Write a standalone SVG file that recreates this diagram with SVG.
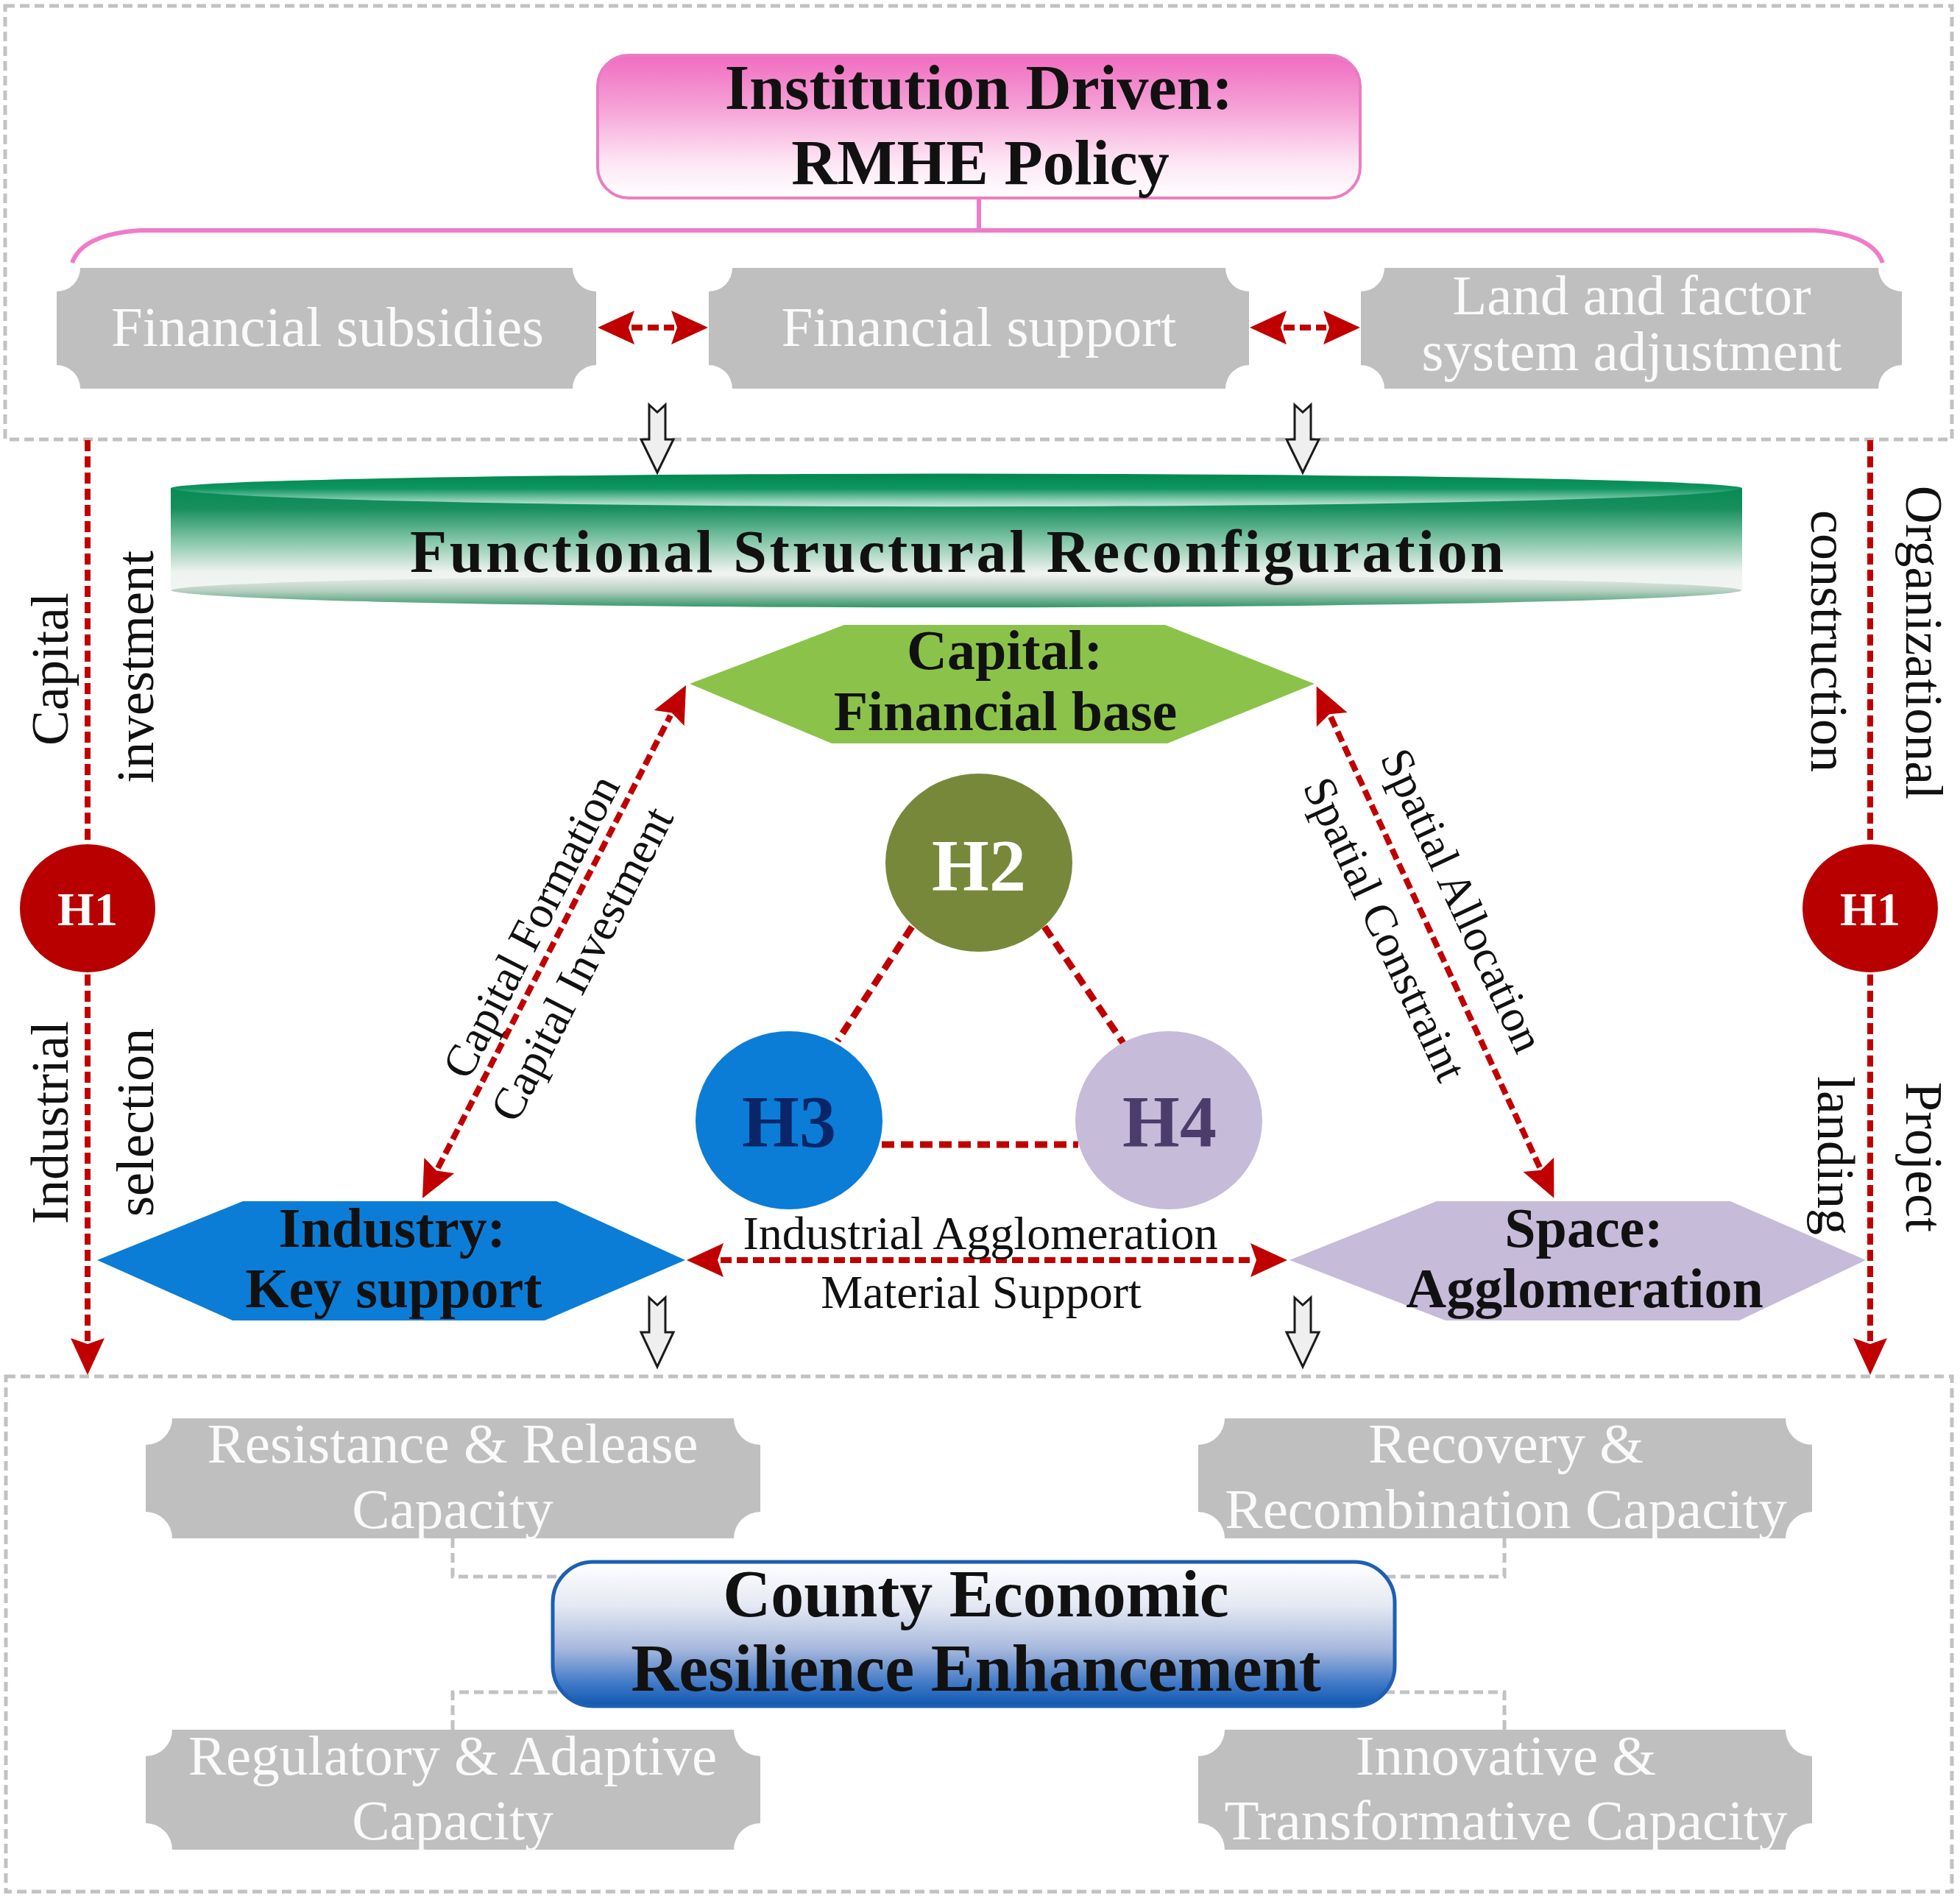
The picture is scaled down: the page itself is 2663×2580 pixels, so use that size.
<svg xmlns="http://www.w3.org/2000/svg" width="2663" height="2580" viewBox="0 0 2663 2580">
<style>
text{font-family:"Liberation Serif","Times New Roman",serif;}
.b{font-weight:bold;}
.gt{fill:#fafafa;font-size:77px;text-anchor:middle;}
.gbox{fill:#bfbfbf;}
.frame{fill:none;stroke:#c2c2c2;stroke-width:5;stroke-dasharray:13 7;}
.gdash{fill:none;stroke:#c2c2c2;stroke-width:5;stroke-dasharray:13 7;}
.red{fill:none;stroke:#c00000;stroke-width:8;stroke-dasharray:15 7;}
.redtri{fill:none;stroke:#c00000;stroke-width:9;stroke-dasharray:17 9;}
.hollow{fill:#efefef;stroke:#1a1a1a;stroke-width:3;stroke-linejoin:miter;}
.lbl{font-size:72px;fill:#111;text-anchor:middle;}
.dl{font-size:62px;fill:#111;text-anchor:middle;}
.hex{font-size:76px;fill:#111;text-anchor:middle;font-weight:bold;}
</style>
<defs>
<marker id="ah" viewBox="0 0 50 46" markerWidth="50" markerHeight="46" refX="4" refY="23" orient="auto-start-reverse" markerUnits="userSpaceOnUse">
<path d="M0,0 L50,23 L0,46 L8,23 Z" fill="#c00000"/>
</marker>
<linearGradient id="gPink" x1="0" y1="0" x2="0" y2="1">
<stop offset="0" stop-color="#f06cc0"/>
<stop offset="0.35" stop-color="#f59fd5"/>
<stop offset="0.75" stop-color="#fde6f4"/>
<stop offset="1" stop-color="#ffffff"/>
</linearGradient>
<linearGradient id="gBlue" x1="0" y1="0" x2="0" y2="1">
<stop offset="0" stop-color="#ffffff"/>
<stop offset="0.3" stop-color="#e5e9f3"/>
<stop offset="0.6" stop-color="#a8b9dd"/>
<stop offset="0.85" stop-color="#3d77c6"/>
<stop offset="1" stop-color="#0f57b0"/>
</linearGradient>
<linearGradient id="gBody" gradientUnits="userSpaceOnUse" x1="0" y1="663" x2="0" y2="826">
<stop offset="0" stop-color="#078a53"/>
<stop offset="0.17" stop-color="#178f5d"/>
<stop offset="0.42" stop-color="#7cc3a3"/>
<stop offset="0.7" stop-color="#eef3f0"/>
<stop offset="1" stop-color="#f5f5f5"/>
</linearGradient>
<linearGradient id="gTop" gradientUnits="userSpaceOnUse" x1="0" y1="643" x2="0" y2="689">
<stop offset="0" stop-color="#00874d"/>
<stop offset="0.45" stop-color="#0f9560"/>
<stop offset="0.85" stop-color="#9fd6bf"/>
<stop offset="1" stop-color="#c8eadb"/>
</linearGradient>
<linearGradient id="gBot" gradientUnits="userSpaceOnUse" x1="0" y1="780" x2="0" y2="826">
<stop offset="0" stop-color="#f3f3f3"/>
<stop offset="0.5" stop-color="#b6cfc2"/>
<stop offset="1" stop-color="#2e9565"/>
</linearGradient>
</defs>

<rect width="2663" height="2580" fill="#ffffff"/>

<g id="frames">
<rect class="frame" x="7" y="8" width="2645" height="589"/>
<rect class="frame" x="8" y="1870" width="2644" height="700"/>
</g>

<g id="connectors">
<path d="M1330,268 V313" fill="none" stroke="#ef7cc8" stroke-width="6"/>
<path d="M98,357 Q112,318 191,313 H2465 Q2544,318 2558,357" fill="none" stroke="#ef7cc8" stroke-width="6"/>
<line class="red" x1="858" y1="445" x2="916" y2="445" marker-start="url(#ah)" marker-end="url(#ah)"/>
<line class="red" x1="1744" y1="445" x2="1802" y2="445" marker-start="url(#ah)" marker-end="url(#ah)"/>
<line class="red" x1="119" y1="598" x2="119" y2="1822" marker-end="url(#ah)"/>
<line class="red" x1="2541" y1="598" x2="2541" y2="1822" marker-end="url(#ah)"/>
<line class="red" x1="595" y1="1587" x2="911" y2="972" marker-start="url(#ah)" marker-end="url(#ah)"/>
<line class="red" x1="1808" y1="974" x2="2092" y2="1586" marker-start="url(#ah)" marker-end="url(#ah)"/>
<line class="red" x1="979" y1="1712" x2="1703" y2="1712" marker-start="url(#ah)" marker-end="url(#ah)"/>
<line class="redtri" x1="1239" y1="1259" x2="1138" y2="1414"/>
<line class="redtri" x1="1419" y1="1259" x2="1526" y2="1417"/>
<line class="redtri" x1="1198" y1="1555" x2="1465" y2="1555"/>
<path class="gdash" d="M615,2090 V2142 H765"/>
<path class="gdash" d="M615,2350 V2299 H765"/>
<path class="gdash" d="M2044,2090 V2142 H1882"/>
<path class="gdash" d="M2044,2350 V2299 H1882"/>
<polygon class="hollow" points="882,550 893,560 904,550 904,597 915,597 893,642 871,597 882,597"/>
<polygon class="hollow" points="1759,550 1770,560 1781,550 1781,597 1792,597 1770,642 1748,597 1759,597"/>
<polygon class="hollow" points="882,1763 893,1773 904,1763 904,1810 915,1810 893,1857 871,1810 882,1810"/>
<polygon class="hollow" points="1759,1763 1770,1773 1781,1763 1781,1810 1792,1810 1770,1857 1748,1810 1759,1810"/>
<text class="lbl" transform="translate(92,909) rotate(-90)">Capital</text>
<text class="lbl" transform="translate(208,906) rotate(-90)">investment</text>
<text class="lbl" transform="translate(92,1525) rotate(-90)">Industrial</text>
<text class="lbl" transform="translate(208,1525) rotate(-90)">selection</text>
<text class="lbl" transform="translate(2590,873) rotate(90)">Organizational</text>
<text class="lbl" transform="translate(2461,871) rotate(90)">construction</text>
<text class="lbl" transform="translate(2590,1572) rotate(90)">Project</text>
<text class="lbl" transform="translate(2470,1570) rotate(90)">landing</text>
<text class="dl" transform="translate(740,1268) rotate(-62.8)">Capital Formation</text>
<text class="dl" transform="translate(809,1319) rotate(-62.8)">Capital Investment</text>
<text class="dl" transform="translate(1968,1232) rotate(65.2)">Spatial Allocation</text>
<text class="dl" transform="translate(1863,1271) rotate(65.2)">Spatial Constraint</text>
<text x="1332" y="1697" font-size="64" fill="#111" text-anchor="middle">Industrial Agglomeration</text>
<text x="1333" y="1777" font-size="64" fill="#111" text-anchor="middle">Material Support</text>
</g>

<g id="institution">
<rect x="812" y="75" width="1036" height="194" rx="42" fill="url(#gPink)" stroke="#e97dc4" stroke-width="4"/>
<text class="b" x="1330" y="148" font-size="86" fill="#111" text-anchor="middle">Institution Driven:</text>
<text class="b" x="1332" y="250" font-size="86" fill="#111" text-anchor="middle">RMHE Policy</text>
</g>

<g id="financial-subsidies">
<path class="gbox" d="M109,364 H778 A32,32 0 0 0 810,396 V496 A32,32 0 0 0 778,528 H109 A32,32 0 0 0 77,496 V396 A32,32 0 0 0 109,364 Z"/>
<text class="gt" x="445" y="470">Financial subsidies</text>
</g>
<g id="financial-support">
<path class="gbox" d="M995,364 H1665 A32,32 0 0 0 1697,396 V496 A32,32 0 0 0 1665,528 H995 A32,32 0 0 0 963,496 V396 A32,32 0 0 0 995,364 Z"/>
<text class="gt" x="1330" y="470">Financial support</text>
</g>
<g id="land-factor">
<path class="gbox" d="M1881,364 H2552 A32,32 0 0 0 2584,396 V496 A32,32 0 0 0 2552,528 H1881 A32,32 0 0 0 1849,496 V396 A32,32 0 0 0 1881,364 Z"/>
<text class="gt" x="2217" y="427" font-size="75">Land and factor</text>
<text class="gt" x="2217" y="503" font-size="75">system adjustment</text>
</g>

<g id="functional">
<path d="M232,663 L232,802 A1068,24 0 0 0 2367,802 L2367,663 Z" fill="url(#gBody)"/>
<path d="M232,802 A1068,22 0 0 1 2367,802 A1068,24 0 0 1 232,802 Z" fill="url(#gBot)"/>
<path d="M232,663 A1068,20 0 0 1 2367,663 A1068,26 0 0 1 232,663 Z" fill="url(#gTop)"/>
<text class="b" x="1300" y="777" font-size="82" fill="#111" text-anchor="middle" textLength="1486" lengthAdjust="spacing">Functional Structural Reconfiguration</text>
</g>

<g id="capital">
<polygon points="937,929 1147,849 1583,849 1786,929 1586,1010 1130,1010" fill="#8bc34a"/>
<text class="hex" x="1365" y="909">Capital:</text>
<text class="hex" x="1366" y="992">Financial base</text>
</g>

<g id="industry">
<polygon points="132,1712 330,1632 756,1632 931,1712 740,1794 316,1794" fill="#0c7dd6"/>
<text class="hex" x="533" y="1694">Industry:</text>
<text class="hex" x="535" y="1776">Key support</text>
</g>

<g id="space">
<polygon points="1752,1712 1952,1632 2351,1632 2535,1712 2363,1794 1964,1794" fill="#c6bbd9"/>
<text class="hex" x="2152" y="1694">Space:</text>
<text class="hex" x="2153" y="1776">Agglomeration</text>
</g>

<g id="h1-left">
<ellipse cx="119" cy="1234" rx="92" ry="87" fill="#b80000"/>
<text class="b" x="119" y="1257" font-size="64" fill="#ffffff" text-anchor="middle">H1</text>
</g>
<g id="h1-right">
<ellipse cx="2541" cy="1234" rx="92" ry="87" fill="#b80000"/>
<text class="b" x="2541" y="1257" font-size="64" fill="#ffffff" text-anchor="middle">H1</text>
</g>

<g id="h2">
<ellipse cx="1330" cy="1172" rx="127" ry="121" fill="#77883a"/>
<text class="b" x="1330" y="1209" font-size="100" fill="#ffffff" text-anchor="middle">H2</text>
</g>
<g id="h3">
<ellipse cx="1072" cy="1522" rx="127" ry="121" fill="#0c7dd6"/>
<text class="b" x="1072" y="1557" font-size="100" fill="#0a2668" text-anchor="middle">H3</text>
</g>
<g id="h4">
<ellipse cx="1588" cy="1522" rx="127" ry="121" fill="#c6bbd9"/>
<text class="b" x="1589" y="1557" font-size="100" fill="#4b3c6c" text-anchor="middle">H4</text>
</g>

<g id="resistance">
<path class="gbox" d="M234,1927 H997 A36,36 0 0 0 1033,1963 V2054 A36,36 0 0 0 997,2090 H234 A36,36 0 0 0 198,2054 V1963 A36,36 0 0 0 234,1927 Z"/>
<text class="gt" x="615" y="1987">Resistance &amp; Release</text>
<text class="gt" x="615" y="2076">Capacity</text>
</g>
<g id="recovery">
<path class="gbox" d="M1664,1927 H2426 A36,36 0 0 0 2462,1963 V2054 A36,36 0 0 0 2426,2090 H1664 A36,36 0 0 0 1628,2054 V1963 A36,36 0 0 0 1664,1927 Z"/>
<text class="gt" x="2046" y="1987">Recovery &amp;</text>
<text class="gt" x="2046" y="2076">Recombination Capacity</text>
</g>
<g id="regulatory">
<path class="gbox" d="M234,2350 H997 A36,36 0 0 0 1033,2386 V2477 A36,36 0 0 0 997,2513 H234 A36,36 0 0 0 198,2477 V2386 A36,36 0 0 0 234,2350 Z"/>
<text class="gt" x="615" y="2411">Regulatory &amp; Adaptive</text>
<text class="gt" x="615" y="2499">Capacity</text>
</g>
<g id="innovative">
<path class="gbox" d="M1664,2350 H2426 A36,36 0 0 0 2462,2386 V2477 A36,36 0 0 0 2426,2513 H1664 A36,36 0 0 0 1628,2477 V2386 A36,36 0 0 0 1664,2350 Z"/>
<text class="gt" x="2046" y="2411">Innovative &amp;</text>
<text class="gt" x="2046" y="2499">Transformative Capacity</text>
</g>

<g id="county">
<rect x="751" y="2122" width="1144" height="196" rx="55" fill="url(#gBlue)" stroke="#1d5fb3" stroke-width="5"/>
<text class="b" x="1326" y="2196" font-size="90" fill="#111" text-anchor="middle">County Economic</text>
<text class="b" x="1326" y="2297" font-size="90" fill="#111" text-anchor="middle">Resilience Enhancement</text>
</g>
</svg>
